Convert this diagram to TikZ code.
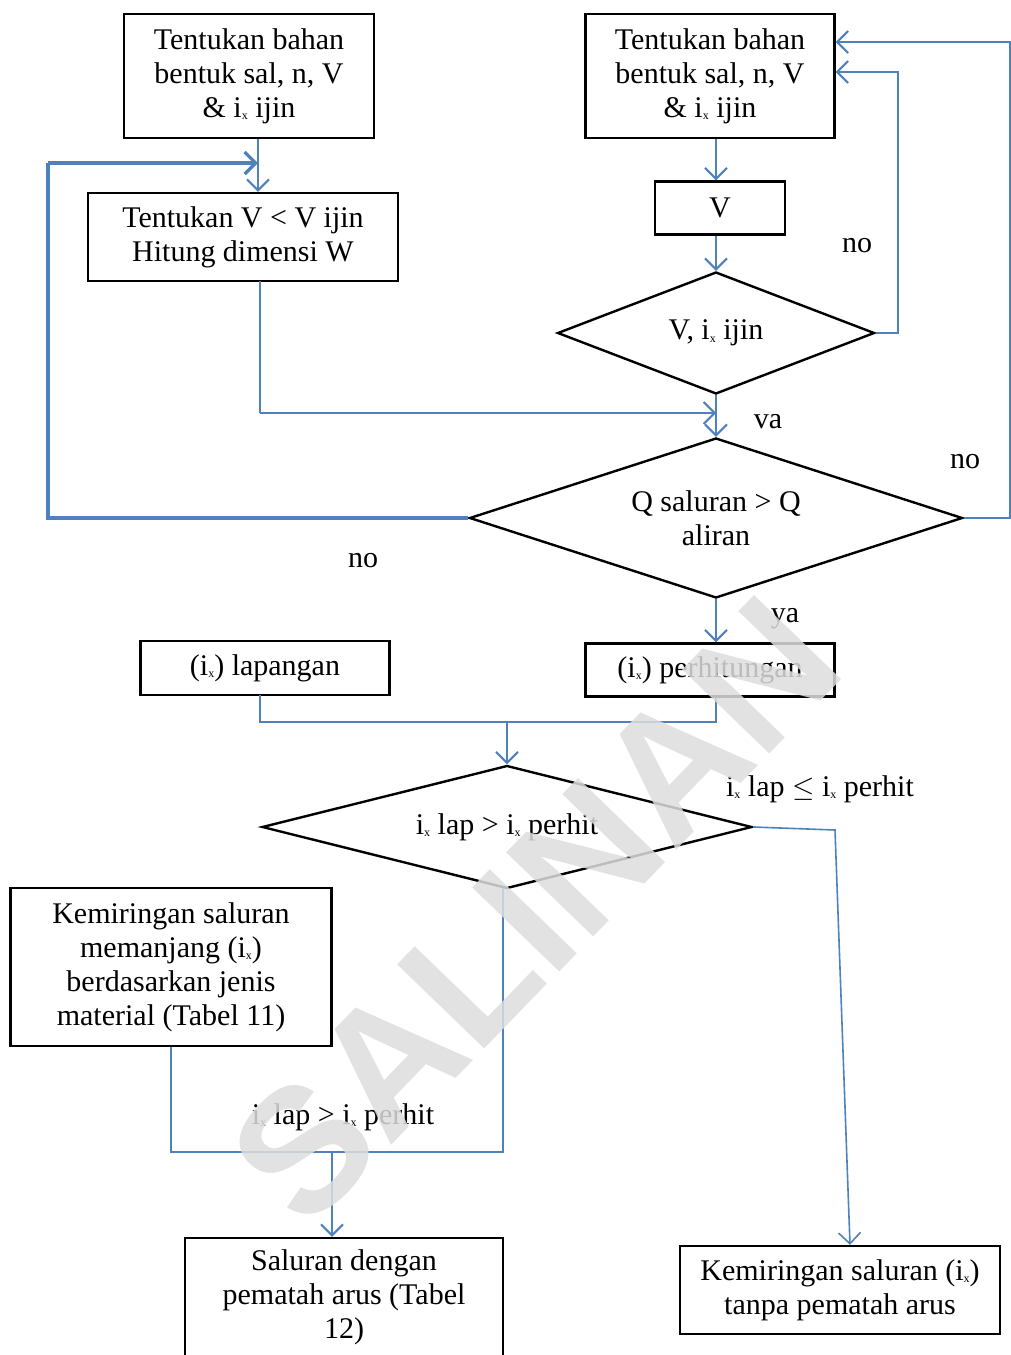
\documentclass[tikz,border=0pt]{standalone}
\usepackage{fontspec}
\setmainfont{Liberation Serif}
\newfontfamily\wmfont{Liberation Sans}
\usetikzlibrary{shapes.geometric, arrows.meta, positioning, calc}
\definecolor{flowblue}{RGB}{79,129,189}
\newcommand{\ix}{i\raisebox{-0.2ex}{\fontsize{6}{6}\selectfont x}}
\tikzset{
  box/.style={draw=black, line width=1.2pt, align=center, inner sep=0pt},
  decision/.style={draw=black, line width=1.2pt, diamond, aspect=3, inner sep=0pt, align=center},
  flow/.style={draw=flowblue, line width=1pt, -{Straight Barb[length=5.5pt,width=11pt]}},
  link/.style={draw=flowblue, line width=1pt},
}

\begin{document}
\begin{tikzpicture}[x=0.5pt, y=-0.5pt, font=\fontsize{15}{17}\selectfont]
        \useasboundingbox (0,0) rectangle (1011,1355);

        % Left column: material and dimension
        \node[box, minimum width=125pt, minimum height=62pt] (bahanA) at (249,76)
            {Tentukan bahan\\bentuk sal, n, V\\\& \ix{} ijin};
        \node[box, minimum width=155pt, minimum height=44pt] (hitung) at (243,237)
            {Tentukan V < V ijin\\Hitung dimensi W};

        % Right column: check of V
        \node[box, minimum width=124.5pt, minimum height=62pt] (bahanB) at (710,76)
            {Tentukan bahan\\bentuk sal, n, V\\\& \ix{} ijin};
        \node[box, minimum width=65pt, minimum height=26.5pt] (kecV) at (720,208) {V};
        \node[decision, minimum width=158.5pt, minimum height=61pt] (cekV) at (716,333) {V, \ix{} ijin};
        \node[decision, minimum width=246.5pt, minimum height=80pt] (cekQ) at (716,518)
            {Q saluran > Q\\aliran};

        % Slopes
        \node[box, minimum width=124.5pt, minimum height=27pt] (lap) at (265,668) {(\ix) lapangan};
        \node[box, minimum width=124.5pt, minimum height=26.5pt] (perh) at (710,670) {(\ix) perhitungan};
        \node[decision, minimum width=245pt, minimum height=61.5pt] (cekI) at (507,827) {\ix{} lap > \ix{} perhit};
        \node[box, minimum width=160.5pt, minimum height=79pt] (kemir) at (171,967)
            {Kemiringan saluran\\memanjang (\ix)\\berdasarkan jenis\\material (Tabel 11)};
        \node[box, minimum width=159pt, minimum height=59pt] (salur) at (344,1297)
            {Saluran dengan\\pematah arus (Tabel\\12)};
        \node[box, minimum width=160pt, minimum height=44pt] (tanpa) at (840,1290)
            {Kemiringan saluran (\ix)\\tanpa pematah arus};

        % Bend points
        \coordinate (jA) at (258,163);
        \coordinate (jV) at (716,413);
        \coordinate (rB) at (898,72);
        \coordinate (rQ) at (1010,42);
        \coordinate (jM) at (507,722);
        \coordinate (bend) at (835,830);
        \coordinate (jB) at (332,1152);

        % Connectors
        \draw[flow] (jA |- bahanA.south) -- (jA |- hitung.north);
        \draw[link, line width=1.6pt] (cekQ.west) -- (48,518) -- (48,163);
        \draw[flow, line width=1.6pt] (48,163) -- (jA);
        \draw[link, line width=1.4pt] (260,281) -- (260,413);
        \draw[flow] (260,413) -- (jV);
        \draw[flow] (cekV.north |- bahanB.south) -- (cekV.north |- kecV.north);
        \draw[flow] (cekV.north |- kecV.south) -- (cekV.north);
        \draw[flow] (cekV.east) -| (rB) -- (rB -| bahanB.east);
        \draw[flow] (cekV.south) -- (cekQ.north);
        \draw[flow] (cekQ.east) -| (rQ) -- (rQ -| bahanB.east);
        \draw[flow] (cekQ.south) -- (cekQ.south |- perh.north);
        \draw[link] (260,695) |- (jM);
        \draw[link] (cekQ.south |- perh.south) |- (jM);
        \draw[flow] (jM) -- (cekI.north);
        \draw[flow, line width=0.8pt] (cekI.east) -- (bend) -- ([xshift=5pt]tanpa.north);
        \draw[link] (kemir.south) |- (503,1152) -- (503,888);
        \draw[flow] (jB) -- (jB |- salur.north);

        % Branch labels
        \node (noV) at (857,246) {no};
        \node (vaV) at (768,422) {va};
        \node (noQr) at (965,462) {no};
        \node (noQl) at (363,561) {no};
        \node (yaQ) at (785,619) {ya};
        \node (leI) at (820,789) {\ix{} lap $\le$ \ix{} perhit};
        \node (gtI) at (343,1117) {\ix{} lap > \ix{} perhit};

        % Watermark
        \node[rotate=46, text=gray!27, opacity=0.85, font=\wmfont\bfseries\fontsize{88}{88}\selectfont] (wm) at (535,910) {SALINAN};
    \end{tikzpicture}
\end{document}
